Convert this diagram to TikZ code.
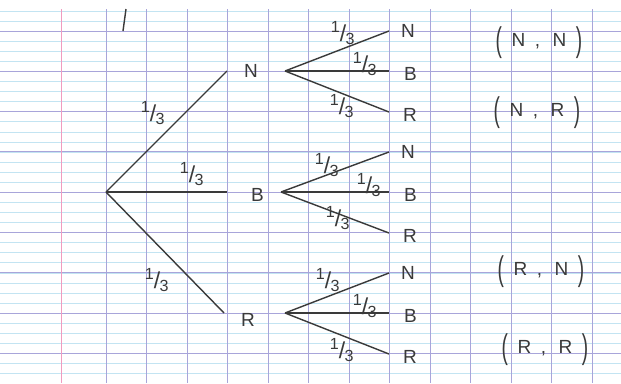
\documentclass[tikz,border=0pt]{standalone}
\usepackage{fontspec}
\setmainfont{Liberation Sans}
\usetikzlibrary{positioning}

\definecolor{inkgray}{HTML}{3A3A3A}
\definecolor{ruleblue}{HTML}{C3E4F2}
\definecolor{rulepurple}{HTML}{A8A5DA}
\definecolor{marginpink}{HTML}{F09CC0}

\newcommand{\third}{\textsuperscript{1}\kern-0.5pt/\kern-0.5pt\textsubscript{3}}
\newcommand{\tallparen}[1]{\raisebox{-0.3em}{\scalebox{1}[1.8]{#1}}}
\newcommand{\pairlabel}[2]{\tallparen{(}\enspace#1\enspace,\enspace\,#2\enspace\tallparen{)}}

\begin{document}
\begin{tikzpicture}[x=1pt,y=-1pt,
  pen/.style={inkgray,line width=1.4pt},
  lbl/.style={font=\fontsize{19}{22}\selectfont,text=inkgray,inner sep=0pt},
  frac/.style={font=\fontsize{23}{26}\selectfont,text=inkgray,inner sep=0pt}]
  % paper
  \fill[white] (0,0) rectangle (621,383);
  \useasboundingbox (0,0) rectangle (621,383);
  \foreach \k in {0,...,36}
    \draw[ruleblue,line width=0.8pt] (0,{11+10.075*\k}) -- (621,{11+10.075*\k});
  \foreach \k in {0,...,8}
    \draw[rulepurple,line width=0.9pt] (0,{31+40.3*\k}) -- (621,{31+40.3*\k});
  \foreach \k in {0,...,12}
    \draw[rulepurple,line width=0.8pt] ({106+40.5*\k},9) -- ({106+40.5*\k},383);
  \draw[marginpink,line width=1pt] (61,9) -- (61,383);
  \draw[pen] (126,9) -- (123,31);

  % first level
  \coordinate (root) at (106,192);
  \coordinate (n-end) at (227,71);
  \coordinate (b-end) at (227,192);
  \coordinate (r-end) at (224,313);
  \node[lbl,right=17pt of n-end] (n) {N};
  \node[lbl,right=24pt of b-end,yshift=-3pt] (b) {B};
  \node[lbl,right=17pt of r-end,yshift=-7pt] (r) {R};
  \draw[pen] (root) -- (n-end);
  \draw[pen] (root) -- (b-end);
  \draw[pen] (root) -- (r-end);
  \node[frac] (f-n) at (153,113) {\third};
  \node[frac] (f-b) at (192,174) {\third};
  \node[frac] (f-r) at (157,280) {\third};

  % second level
  \coordinate (n-fork) at (285,71);
  \coordinate (b-fork) at (281,192);
  \coordinate (r-fork) at (285,313);
  \foreach \f/\y in {n/71,b/192,r/313} {
    \coordinate (\f-nn) at (389,{\y-40});
    \coordinate (\f-bb) at (389,\y);
    \coordinate (\f-rr) at (389,{\y+41});
    \draw[pen] (\f-fork) -- (\f-nn);
    \draw[pen] (\f-fork) -- (\f-bb);
    \draw[pen] (\f-fork) -- (\f-rr);
    \node[lbl,right=12pt of \f-nn] (\f-n-leaf) {N};
    \node[lbl,right=15pt of \f-bb,yshift=-3pt] (\f-b-leaf) {B};
    \node[lbl,right=14pt of \f-rr,yshift=-3pt] (\f-r-leaf) {R};
  }
  \node[frac] (f-nn) at (343,33) {\third};
  \node[frac] (f-nb) at (365,64) {\third};
  \node[frac] (f-nr) at (342,106) {\third};
  \node[frac] (f-bn) at (327,165) {\third};
  \node[frac] (f-bb) at (369,185) {\third};
  \node[frac] (f-br) at (338,218) {\third};
  \node[frac] (f-rn) at (328,280) {\third};
  \node[frac] (f-rb) at (365,306) {\third};
  \node[frac] (f-rr) at (342,350) {\third};

  % outcomes
  \node[lbl] (p-nn) at (539,43) {\pairlabel{N}{N}};
  \node[lbl] (p-nr) at (537,113) {\pairlabel{N}{R}};
  \node[lbl] (p-rn) at (541,272) {\pairlabel{R}{N}};
  \node[lbl] (p-rr) at (545,350) {\pairlabel{R}{R}};
\end{tikzpicture}
\end{document}
